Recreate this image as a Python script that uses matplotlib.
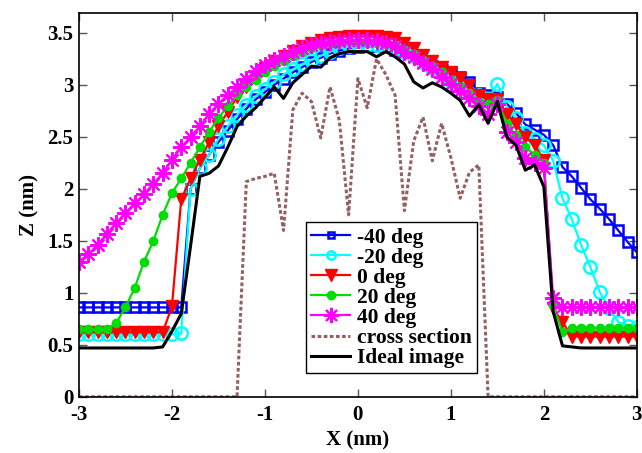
import matplotlib
matplotlib.use('Agg')
import matplotlib.pyplot as plt

# x positions (nm), one every 0.1 nm
x_nm = [-3.0, -2.9, -2.8, -2.7, -2.6, -2.5, -2.4, -2.3, -2.2, -2.1,
        -2.0, -1.9, -1.8, -1.7, -1.6, -1.5, -1.4, -1.3, -1.2, -1.1,
        -1.0, -0.9, -0.8, -0.7, -0.6, -0.5, -0.4, -0.3, -0.2, -0.1,
        0.0, 0.1, 0.2, 0.3, 0.4, 0.5, 0.6, 0.7, 0.8, 0.9,
        1.0, 1.1, 1.2, 1.3, 1.4, 1.5, 1.6, 1.7, 1.8, 1.9,
        2.0, 2.1, 2.2, 2.3, 2.4, 2.5, 2.6, 2.7, 2.8, 2.9, 3.0]

z_m40 = [0.86, 0.86, 0.86, 0.86, 0.86, 0.86, 0.86, 0.86, 0.86, 0.86,
         0.86, 0.86, 2.00, 2.20, 2.33, 2.45, 2.56, 2.67, 2.77, 2.86,
         2.93, 3.00, 3.06, 3.12, 3.17, 3.22, 3.26, 3.30, 3.33, 3.35,
         3.36, 3.37, 3.37, 3.36, 3.34, 3.32, 3.28, 3.23, 3.18, 3.14,
         3.12, 3.08, 3.03, 2.92, 2.90, 2.88, 2.82, 2.73, 2.62, 2.57,
         2.52, 2.42, 2.21, 2.12, 2.01, 1.90, 1.81, 1.71, 1.60, 1.49, 1.39]

z_m20 = [0.60, 0.60, 0.60, 0.60, 0.60, 0.60, 0.60, 0.60, 0.60, 0.60,
         0.60, 0.61, 2.00, 2.20, 2.33, 2.48, 2.60, 2.71, 2.81, 2.89,
         2.96, 3.03, 3.10, 3.15, 3.20, 3.24, 3.28, 3.32, 3.35, 3.37,
         3.38, 3.38, 3.38, 3.37, 3.35, 3.32, 3.28, 3.22, 3.16, 3.10,
         3.04, 2.98, 2.92, 2.90, 2.86, 3.01, 2.79, 2.68, 2.54, 2.48,
         2.42, 2.27, 1.91, 1.71, 1.46, 1.25, 1.01, 0.85, 0.72, 0.68, 0.67]

z_0 = [0.62, 0.62, 0.62, 0.62, 0.62, 0.62, 0.62, 0.62, 0.62, 0.62,
       0.87, 1.90, 2.10, 2.28, 2.45, 2.60, 2.74, 2.88, 2.98, 3.08,
       3.16, 3.23, 3.28, 3.33, 3.37, 3.40, 3.43, 3.45, 3.46, 3.47,
       3.47, 3.47, 3.47, 3.46, 3.45, 3.40, 3.35, 3.29, 3.23, 3.17,
       3.12, 3.07, 3.00, 2.90, 2.86, 2.86, 2.72, 2.62, 2.50, 2.42,
       2.28, 0.85, 0.72, 0.58, 0.58, 0.58, 0.58, 0.58, 0.58, 0.58, 0.58]

z_20 = [0.65, 0.65, 0.65, 0.65, 0.71, 0.86, 1.05, 1.30, 1.50, 1.75,
        1.96, 2.10, 2.25, 2.40, 2.55, 2.68, 2.80, 2.90, 2.98, 3.05,
        3.12, 3.18, 3.23, 3.28, 3.32, 3.35, 3.38, 3.40, 3.41, 3.42,
        3.42, 3.42, 3.41, 3.39, 3.37, 3.34, 3.30, 3.24, 3.18, 3.12,
        3.05, 2.98, 2.92, 2.84, 2.82, 2.85, 2.62, 2.52, 2.40, 2.33,
        2.25, 0.88, 0.62, 0.66, 0.66, 0.66, 0.66, 0.66, 0.66, 0.66, 0.66]

z_40 = [1.30, 1.37, 1.46, 1.57, 1.67, 1.77, 1.86, 1.95, 2.05, 2.15,
        2.28, 2.40, 2.50, 2.60, 2.72, 2.82, 2.90, 2.98, 3.06, 3.13,
        3.19, 3.24, 3.28, 3.32, 3.35, 3.38, 3.40, 3.41, 3.42, 3.43,
        3.43, 3.43, 3.42, 3.40, 3.37, 3.32, 3.27, 3.21, 3.15, 3.08,
        3.01, 2.94, 2.87, 2.80, 2.72, 2.82, 2.55, 2.45, 2.30, 2.25,
        2.20, 0.95, 0.86, 0.86, 0.86, 0.86, 0.86, 0.86, 0.86, 0.86, 0.86]

z_cross = [0, 0, 0, 0, 0, 0, 0, 0, 0, 0,
           0, 0, 0, 0, 0, 0, 0, 0, 2.07, 2.10,
           2.12, 2.15, 1.60, 2.76, 2.92, 2.84, 2.49, 2.98, 2.66, 1.75,
           3.06, 2.78, 3.25, 3.10, 2.90, 1.79, 2.46, 2.69, 2.27, 2.63,
           2.30, 1.91, 2.16, 2.23, 0, 0, 0, 0, 0, 0,
           0, 0, 0, 0, 0, 0, 0, 0, 0, 0, 0]

z_ideal = [0.47, 0.47, 0.47, 0.47, 0.47, 0.47, 0.47, 0.47, 0.47, 0.48,
           0.63, 0.80, 1.45, 2.12, 2.15, 2.22, 2.40, 2.60, 2.70, 2.78,
           2.88, 2.98, 2.87, 3.02, 3.10, 3.18, 3.17, 3.26, 3.30, 3.32,
           3.32, 3.32, 3.27, 3.32, 3.27, 3.20, 3.03, 2.97, 3.02, 2.98,
           2.92, 2.85, 2.70, 2.81, 2.63, 2.84, 2.50, 2.42, 2.18, 2.23,
           2.02, 0.82, 0.49, 0.48, 0.47, 0.47, 0.47, 0.47, 0.47, 0.47, 0.47]

x_ticks = [-3, -2, -1, 0, 1, 2, 3]
y_ticks = [0, 0.5, 1, 1.5, 2, 2.5, 3, 3.5]
y_tick_labels = ['0', '0.5', '1', '1.5', '2', '2.5', '3', '3.5']

plt.rcParams['font.family'] = ['Liberation Serif', 'DejaVu Serif']
plt.rcParams['font.weight'] = 'bold'
plt.rcParams['axes.unicode_minus'] = False

fig = plt.figure(figsize=(6.42, 4.53), dpi=100)
ax = fig.add_axes([0.123, 0.124, 0.869, 0.847])

lw = 1.6
ax.plot(x_nm, z_m40, color='#0000ff', lw=lw, marker='s', ms=7, mfc='none',
        mew=1.8, label='-40 deg')
ax.plot(x_nm, z_m20, color='#00ffff', lw=lw, marker='o', ms=9, mfc='none',
        mew=1.8, label='-20 deg')
ax.plot(x_nm, z_0, color='#ff0000', lw=lw, marker='v', ms=9, label='0 deg')
ax.plot(x_nm, z_20, color='#00dd00', lw=lw, marker='o', ms=6, label='20 deg')
ax.plot(x_nm, z_40, color='#ff00ff', lw=lw, marker=(8, 2, 0), ms=12, mew=1.5,
        label='40 deg')
ax.plot(x_nm, z_cross, color='#946060', lw=2.2, ls=(0, (1.2, 0.8)),
        label='cross section')
ax.plot(x_nm, z_ideal, color='black', lw=2.2, label='Ideal image')

ax.set_xlim(-3, 3)
ax.set_ylim(0, 3.69)
ax.set_xticks(x_ticks)
ax.set_yticks(y_ticks)
ax.set_yticklabels(y_tick_labels)
ax.tick_params(direction='in', top=True, right=True, length=6, width=1,
               labelsize=15, pad=6, color='#555555')
ax.tick_params(axis='y', pad=4)
for lab in ax.get_xticklabels() + ax.get_yticklabels():
    lab.set_fontweight('bold')
for sp in ax.spines.values():
    sp.set_linewidth(1.2)

ax.set_xlabel('X (nm)', fontsize=15, fontweight='bold', labelpad=4)
ax.set_ylabel('Z (nm)', fontsize=15, fontweight='bold', labelpad=6)

leg = ax.legend(loc='upper left', bbox_to_anchor=(0.407, 0.455), fontsize=15.5,
                numpoints=1, handlelength=1.8, handletextpad=0.3,
                labelspacing=0.0, borderpad=0.25, borderaxespad=0,
                fancybox=False, framealpha=1, edgecolor='black')
leg.get_frame().set_linewidth(1.0)
for t in leg.get_texts():
    t.set_fontweight('bold')
# legend markers are drawn smaller than in the plot
legend_ms = [5, 6, 9, 6, 11]
for h, m in zip(leg.legend_handles[:5], legend_ms):
    h.set_markersize(m)

plt.savefig('out.png', dpi=100)
